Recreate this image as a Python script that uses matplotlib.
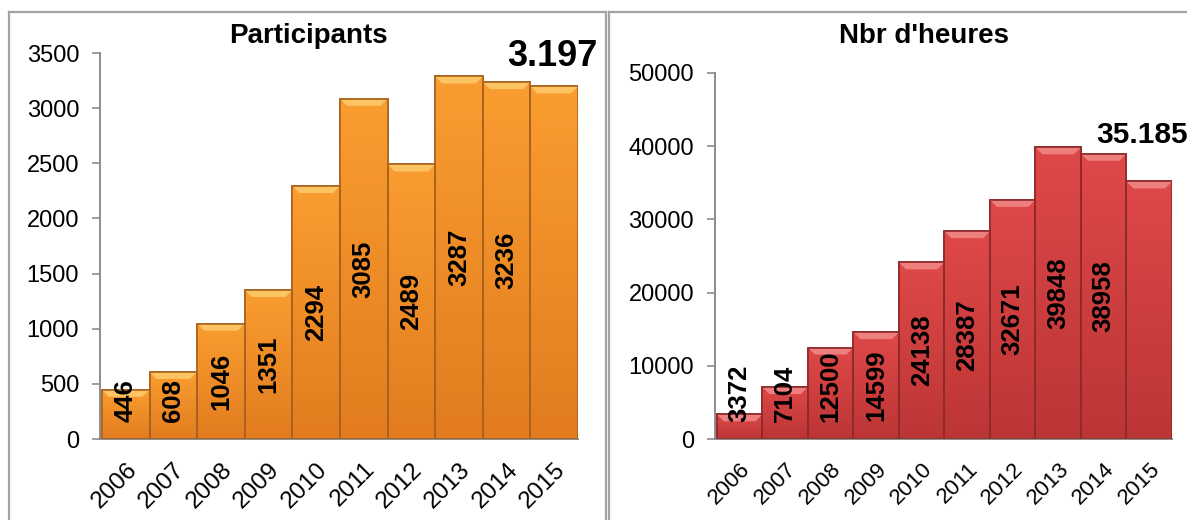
import numpy as np
import matplotlib
matplotlib.use('Agg')
import matplotlib.pyplot as plt
from matplotlib.colors import LinearSegmentedColormap
from matplotlib.lines import Line2D

plt.rcParams['font.family'] = ['Liberation Sans', 'DejaVu Sans']

years = ['2006', '2007', '2008', '2009', '2010', '2011', '2012', '2013', '2014', '2015']
participants = [446, 608, 1046, 1351, 2294, 3085, 2489, 3287, 3236, 3197]
heures = [3372, 7104, 12500, 14599, 24138, 28387, 32671, 39848, 38958, 35185]

W, H = 1187, 520
fig = plt.figure(figsize=(W / 100, H / 100), dpi=100)


def px_box(left, right, top, bottom):
    # pixel box (origin top-left) -> figure fractions
    return [left / W, (H - bottom) / H, (right - left) / W, (bottom - top) / H]


def draw_panel(ax, vals, ymax, step, colors, xfont):
    top_c, bot_c, bevel_c, edge_c = colors
    cmap = LinearSegmentedColormap.from_list('g', [top_c, bot_c])
    ax_h = ax.get_position().height * H
    px_unit = ax_h / ymax  # pixels per data unit
    bev = 7 / px_unit
    bev_x = 7 / (ax.get_position().width * W / 10.04)
    for i, v in enumerate(vals):
        bar = ax.bar(i, v, width=1.0, color=bot_c, edgecolor=edge_c, lw=1.2, zorder=2)[0]
        img = ax.imshow(np.linspace(0, 1, 200).reshape(-1, 1), cmap=cmap, aspect='auto',
                        extent=(i - 0.5, i + 0.5, 0, v), origin='upper', zorder=2.5)
        img.set_clip_path(bar)
        ax.fill([i - 0.5, i + 0.5, i + 0.5 - bev_x, i - 0.5 + bev_x],
                [v, v, v - bev, v - bev], color=bevel_c, lw=0, zorder=3)
        ax.bar(i, v, width=1.0, fill=False, edgecolor=edge_c, lw=1.2, zorder=3.5)
        if i == len(vals) - 1:
            continue  # last year is shown as the big total instead
        # label centred in the bar, but kept clear of the base
        s = str(v)
        fs = 18.5
        L = len(s) * 0.556 * fs * 100 / 72
        yc = max(v / 2, (17 + L / 2) / px_unit)
        ax.text(i, yc, s, rotation=90, ha='center', va='center', fontsize=fs,
                fontweight='bold', color='black', zorder=4)
    ax.set_xlim(-0.54, 9.5)
    ax.set_ylim(0, ymax)
    ax.set_yticks(np.arange(0, ymax + 1, step))
    ax.set_xticks(range(len(years)))
    ax.set_xticklabels(years, rotation=45, ha='right', va='top', rotation_mode='anchor',
                       fontsize=xfont)
    ax.tick_params(axis='x', length=0, pad=14)
    ax.tick_params(axis='y', labelsize=17, length=6, width=1.2, color='#8c8c8c', pad=9)
    for side in ['top', 'right']:
        ax.spines[side].set_visible(False)
    for side in ['left', 'bottom']:
        ax.spines[side].set_color('#8c8c8c')
        ax.spines[side].set_linewidth(1.4)
    ax.set_facecolor('none')


ax1 = fig.add_axes(px_box(100, 578, 53, 439))
draw_panel(ax1, participants, 3500, 500,
           ('#FA9D30', '#E27C1F', '#FCC463', '#A9621E'), 17.5)

ax2 = fig.add_axes(px_box(715, 1172, 73, 439))
draw_panel(ax2, heures, 50000, 10000,
           ('#DF4848', '#BC3535', '#EE7F7F', '#8E2A2A'), 16)

# panel frames
frame = '#a3a3a3'
fig.add_artist(Line2D([9 / W, 606 / W], [(H - 12) / H] * 2, color=frame, lw=1.6))
fig.add_artist(Line2D([9 / W, 9 / W], [0, (H - 12) / H], color=frame, lw=1.6))
fig.add_artist(Line2D([606 / W, 606 / W], [0, (H - 12) / H], color=frame, lw=1.6))
fig.add_artist(Line2D([609 / W, 1.0], [(H - 12) / H] * 2, color=frame, lw=1.6))
fig.add_artist(Line2D([609 / W, 609 / W], [0, (H - 12) / H], color=frame, lw=1.6))

# titles and totals
fig.text(308 / W, (H - 43) / H, 'Participants', ha='center', va='baseline',
         fontsize=20, fontweight='bold')
fig.text(924 / W, (H - 43) / H, "Nbr d'heures", ha='center', va='baseline',
         fontsize=20, fontweight='bold')
fig.text(507 / W, (H - 66) / H, '3.197', ha='left', va='baseline',
         fontsize=26, fontweight='bold')
fig.text(1096 / W, (H - 143) / H, '35.185', ha='left', va='baseline',
         fontsize=21.5, fontweight='bold')

fig.savefig('out.png', dpi=100)
